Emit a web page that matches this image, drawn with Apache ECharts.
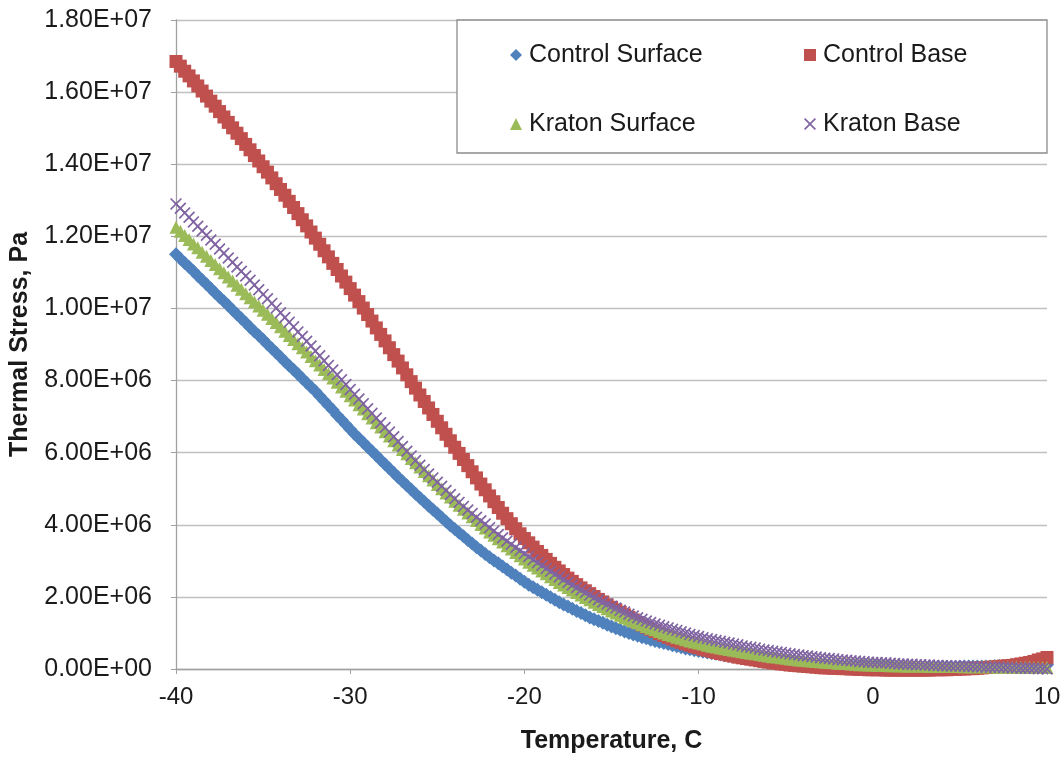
<!DOCTYPE html>
<html>
<head>
<meta charset="utf-8">
<script src="https://cdn.jsdelivr.net/npm/echarts@6/dist/echarts.min.js"></script>
<style>
html,body{margin:0;padding:0;background:#fff;}
#chart{width:1064px;height:761px;}
</style>
</head>
<body>
<div id="chart"></div>
<script>
// Temperature, C
var temperature = [
-40,-39.75,-39.5,-39.25,-39,-38.75,-38.5,-38.25,-38,-37.75,-37.5,-37.25,-37,-36.75,-36.5,-36.25,-36,-35.75,-35.5,-35.25,
-35,-34.75,-34.5,-34.25,-34,-33.75,-33.5,-33.25,-33,-32.75,-32.5,-32.25,-32,-31.75,-31.5,-31.25,-31,-30.75,-30.5,-30.25,
-30,-29.75,-29.5,-29.25,-29,-28.75,-28.5,-28.25,-28,-27.75,-27.5,-27.25,-27,-26.75,-26.5,-26.25,-26,-25.75,-25.5,-25.25,
-25,-24.75,-24.5,-24.25,-24,-23.75,-23.5,-23.25,-23,-22.75,-22.5,-22.25,-22,-21.75,-21.5,-21.25,-21,-20.75,-20.5,-20.25,
-20,-19.75,-19.5,-19.25,-19,-18.75,-18.5,-18.25,-18,-17.75,-17.5,-17.25,-17,-16.75,-16.5,-16.25,-16,-15.75,-15.5,-15.25,
-15,-14.75,-14.5,-14.25,-14,-13.75,-13.5,-13.25,-13,-12.75,-12.5,-12.25,-12,-11.75,-11.5,-11.25,-11,-10.75,-10.5,-10.25,
-10,-9.75,-9.5,-9.25,-9,-8.75,-8.5,-8.25,-8,-7.75,-7.5,-7.25,-7,-6.75,-6.5,-6.25,-6,-5.75,-5.5,-5.25,
-5,-4.75,-4.5,-4.25,-4,-3.75,-3.5,-3.25,-3,-2.75,-2.5,-2.25,-2,-1.75,-1.5,-1.25,-1,-0.75,-0.5,-0.25,
0,0.25,0.5,0.75,1,1.25,1.5,1.75,2,2.25,2.5,2.75,3,3.25,3.5,3.75,4,4.25,4.5,4.75,
5,5.25,5.5,5.75,6,6.25,6.5,6.75,7,7.25,7.5,7.75,8,8.25,8.5,8.75,9,9.25,9.5,9.75,
10];

// Thermal Stress, Pa
var controlSurface = [
11.50e6,11.38e6,11.26e6,11.15e6,11.03e6,10.91e6,10.79e6,10.67e6,10.55e6,10.43e6,10.31e6,10.20e6,10.08e6,9.96e6,9.84e6,9.72e6,9.60e6,9.48e6,9.36e6,9.25e6,
9.13e6,9.01e6,8.89e6,8.77e6,8.65e6,8.53e6,8.41e6,8.30e6,8.18e6,8.06e6,7.94e6,7.82e6,7.70e6,7.57e6,7.44e6,7.31e6,7.18e6,7.04e6,6.91e6,6.78e6,
6.65e6,6.52e6,6.40e6,6.28e6,6.16e6,6.04e6,5.92e6,5.80e6,5.68e6,5.56e6,5.44e6,5.32e6,5.21e6,5.09e6,4.98e6,4.86e6,4.75e6,4.64e6,4.53e6,4.42e6,
4.31e6,4.20e6,4.09e6,3.98e6,3.88e6,3.78e6,3.68e6,3.58e6,3.48e6,3.38e6,3.29e6,3.19e6,3.10e6,3.01e6,2.93e6,2.84e6,2.76e6,2.67e6,2.59e6,2.50e6,
2.42e6,2.34e6,2.27e6,2.20e6,2.13e6,2.06e6,1.99e6,1.92e6,1.85e6,1.79e6,1.73e6,1.67e6,1.61e6,1.55e6,1.49e6,1.43e6,1.38e6,1.33e6,1.28e6,1.23e6,
1.18e6,1.13e6,1.09e6,1.04e6,1.00e6,0.96e6,0.92e6,0.88e6,0.85e6,0.81e6,0.78e6,0.75e6,0.72e6,0.69e6,0.66e6,0.63e6,0.60e6,0.57e6,0.55e6,0.52e6,
0.50e6,0.48e6,0.46e6,0.44e6,0.42e6,0.40e6,0.38e6,0.36e6,0.35e6,0.33e6,0.32e6,0.30e6,0.29e6,0.27e6,0.26e6,0.25e6,0.24e6,0.23e6,0.22e6,0.21e6,
0.20e6,0.19e6,0.18e6,0.17e6,0.16e6,0.15e6,0.15e6,0.14e6,0.13e6,0.12e6,0.12e6,0.11e6,0.11e6,0.10e6,0.10e6,0.09e6,0.09e6,0.09e6,0.09e6,0.08e6,
0.08e6,0.08e6,0.08e6,0.07e6,0.07e6,0.07e6,0.07e6,0.06e6,0.06e6,0.06e6,0.06e6,0.06e6,0.06e6,0.06e6,0.06e6,0.06e6,0.06e6,0.06e6,0.06e6,0.06e6,
0.07e6,0.07e6,0.07e6,0.07e6,0.07e6,0.07e6,0.07e6,0.07e6,0.08e6,0.08e6,0.08e6,0.08e6,0.08e6,0.08e6,0.09e6,0.09e6,0.10e6,0.10e6,0.11e6,0.11e6,
0.12e6];

var controlBase = [
16.85e6,16.72e6,16.58e6,16.45e6,16.31e6,16.17e6,16.03e6,15.89e6,15.75e6,15.61e6,15.46e6,15.31e6,15.16e6,15.01e6,14.86e6,14.71e6,14.55e6,14.40e6,14.24e6,14.09e6,
13.93e6,13.78e6,13.62e6,13.46e6,13.30e6,13.14e6,12.97e6,12.80e6,12.63e6,12.46e6,12.29e6,12.12e6,11.95e6,11.78e6,11.60e6,11.43e6,11.25e6,11.08e6,10.90e6,10.73e6,
10.55e6,10.37e6,10.19e6,10.01e6,9.83e6,9.65e6,9.46e6,9.28e6,9.10e6,8.91e6,8.72e6,8.54e6,8.35e6,8.16e6,7.97e6,7.79e6,7.60e6,7.42e6,7.24e6,7.06e6,
6.87e6,6.69e6,6.51e6,6.33e6,6.15e6,5.98e6,5.81e6,5.64e6,5.47e6,5.30e6,5.13e6,4.97e6,4.80e6,4.64e6,4.48e6,4.32e6,4.17e6,4.03e6,3.89e6,3.75e6,
3.62e6,3.50e6,3.38e6,3.26e6,3.15e6,3.04e6,2.93e6,2.82e6,2.72e6,2.62e6,2.52e6,2.43e6,2.34e6,2.25e6,2.17e6,2.09e6,2.01e6,1.93e6,1.86e6,1.78e6,
1.71e6,1.64e6,1.57e6,1.50e6,1.43e6,1.36e6,1.29e6,1.22e6,1.16e6,1.10e6,1.04e6,0.98e6,0.93e6,0.88e6,0.83e6,0.78e6,0.74e6,0.70e6,0.66e6,0.62e6,
0.59e6,0.55e6,0.52e6,0.49e6,0.46e6,0.43e6,0.41e6,0.38e6,0.36e6,0.33e6,0.31e6,0.29e6,0.27e6,0.25e6,0.23e6,0.21e6,0.19e6,0.17e6,0.16e6,0.14e6,
0.13e6,0.11e6,0.10e6,0.09e6,0.08e6,0.07e6,0.06e6,0.05e6,0.04e6,0.03e6,0.03e6,0.02e6,0.02e6,0.01e6,0.01e6,0.00e6,0.00e6,-0.01e6,-0.01e6,-0.02e6,
-0.02e6,-0.02e6,-0.02e6,-0.03e6,-0.03e6,-0.03e6,-0.03e6,-0.03e6,-0.03e6,-0.03e6,-0.03e6,-0.03e6,-0.03e6,-0.03e6,-0.02e6,-0.02e6,-0.02e6,-0.02e6,-0.01e6,-0.01e6,
0.00e6,0.00e6,0.01e6,0.01e6,0.02e6,0.03e6,0.04e6,0.05e6,0.06e6,0.07e6,0.08e6,0.09e6,0.10e6,0.12e6,0.14e6,0.16e6,0.18e6,0.21e6,0.25e6,0.28e6,
0.32e6];

var kratonSurface = [
12.25e6,12.14e6,12.02e6,11.91e6,11.79e6,11.68e6,11.56e6,11.45e6,11.33e6,11.22e6,11.10e6,10.99e6,10.87e6,10.76e6,10.64e6,10.53e6,10.41e6,10.30e6,10.18e6,10.07e6,
9.95e6,9.84e6,9.72e6,9.61e6,9.49e6,9.37e6,9.25e6,9.14e6,9.02e6,8.91e6,8.79e6,8.67e6,8.55e6,8.43e6,8.31e6,8.19e6,8.07e6,7.95e6,7.82e6,7.70e6,
7.58e6,7.46e6,7.33e6,7.21e6,7.08e6,6.96e6,6.83e6,6.71e6,6.58e6,6.46e6,6.33e6,6.21e6,6.09e6,5.97e6,5.84e6,5.72e6,5.60e6,5.48e6,5.36e6,5.24e6,
5.12e6,5.00e6,4.88e6,4.77e6,4.65e6,4.54e6,4.43e6,4.33e6,4.22e6,4.12e6,4.01e6,3.91e6,3.80e6,3.71e6,3.61e6,3.52e6,3.42e6,3.33e6,3.23e6,3.14e6,
3.05e6,2.96e6,2.88e6,2.80e6,2.72e6,2.64e6,2.56e6,2.48e6,2.40e6,2.33e6,2.26e6,2.19e6,2.12e6,2.05e6,1.98e6,1.92e6,1.85e6,1.79e6,1.73e6,1.67e6,
1.61e6,1.55e6,1.49e6,1.43e6,1.38e6,1.33e6,1.28e6,1.23e6,1.18e6,1.13e6,1.09e6,1.04e6,1.00e6,0.96e6,0.92e6,0.88e6,0.85e6,0.81e6,0.78e6,0.75e6,
0.72e6,0.69e6,0.66e6,0.63e6,0.61e6,0.58e6,0.56e6,0.54e6,0.52e6,0.50e6,0.48e6,0.46e6,0.44e6,0.42e6,0.40e6,0.38e6,0.36e6,0.34e6,0.33e6,0.31e6,
0.30e6,0.28e6,0.27e6,0.25e6,0.24e6,0.23e6,0.22e6,0.21e6,0.20e6,0.19e6,0.18e6,0.17e6,0.16e6,0.15e6,0.15e6,0.14e6,0.13e6,0.12e6,0.12e6,0.11e6,
0.11e6,0.10e6,0.10e6,0.10e6,0.09e6,0.09e6,0.09e6,0.08e6,0.08e6,0.08e6,0.08e6,0.08e6,0.08e6,0.07e6,0.07e6,0.07e6,0.07e6,0.07e6,0.07e6,0.07e6,
0.07e6,0.06e6,0.06e6,0.06e6,0.06e6,0.06e6,0.06e6,0.06e6,0.06e6,0.05e6,0.05e6,0.05e6,0.05e6,0.05e6,0.05e6,0.05e6,0.05e6,0.04e6,0.04e6,0.04e6,
0.04e6];

var kratonBase = [
12.90e6,12.78e6,12.65e6,12.53e6,12.40e6,12.28e6,12.15e6,12.03e6,11.90e6,11.78e6,11.65e6,11.53e6,11.40e6,11.28e6,11.15e6,11.03e6,10.90e6,10.78e6,10.65e6,10.52e6,
10.39e6,10.27e6,10.14e6,10.01e6,9.88e6,9.75e6,9.62e6,9.49e6,9.35e6,9.22e6,9.09e6,8.96e6,8.82e6,8.69e6,8.55e6,8.42e6,8.29e6,8.16e6,8.02e6,7.89e6,
7.75e6,7.62e6,7.49e6,7.36e6,7.22e6,7.09e6,6.96e6,6.83e6,6.70e6,6.57e6,6.44e6,6.31e6,6.17e6,6.04e6,5.91e6,5.78e6,5.65e6,5.53e6,5.41e6,5.30e6,
5.18e6,5.07e6,4.95e6,4.84e6,4.72e6,4.62e6,4.51e6,4.41e6,4.31e6,4.21e6,4.11e6,4.02e6,3.92e6,3.83e6,3.73e6,3.64e6,3.55e6,3.46e6,3.37e6,3.29e6,
3.20e6,3.12e6,3.03e6,2.95e6,2.87e6,2.79e6,2.71e6,2.63e6,2.55e6,2.48e6,2.40e6,2.33e6,2.26e6,2.19e6,2.12e6,2.05e6,1.98e6,1.92e6,1.86e6,1.80e6,
1.74e6,1.69e6,1.63e6,1.58e6,1.52e6,1.47e6,1.42e6,1.38e6,1.33e6,1.29e6,1.25e6,1.21e6,1.17e6,1.14e6,1.10e6,1.07e6,1.03e6,1.00e6,0.96e6,0.93e6,
0.90e6,0.87e6,0.84e6,0.82e6,0.79e6,0.77e6,0.74e6,0.72e6,0.69e6,0.67e6,0.64e6,0.62e6,0.60e6,0.58e6,0.55e6,0.53e6,0.51e6,0.49e6,0.47e6,0.46e6,
0.44e6,0.42e6,0.40e6,0.39e6,0.37e6,0.36e6,0.34e6,0.33e6,0.31e6,0.30e6,0.29e6,0.28e6,0.26e6,0.25e6,0.24e6,0.23e6,0.22e6,0.21e6,0.20e6,0.19e6,
0.18e6,0.18e6,0.17e6,0.17e6,0.16e6,0.15e6,0.14e6,0.14e6,0.13e6,0.13e6,0.12e6,0.12e6,0.11e6,0.11e6,0.10e6,0.10e6,0.09e6,0.09e6,0.08e6,0.08e6,
0.08e6,0.08e6,0.07e6,0.07e6,0.06e6,0.06e6,0.05e6,0.05e6,0.05e6,0.05e6,0.04e6,0.04e6,0.03e6,0.03e6,0.02e6,0.02e6,0.02e6,0.02e6,0.01e6,0.01e6,
0.00e6];

var seriesNames = ['Control Surface', 'Control Base', 'Kraton Surface', 'Kraton Base'];
var seriesValues = [controlSurface, controlBase, kratonSurface, kratonBase];
var seriesColors = ['#4F81BD', '#C0504D', '#9BBB59', '#8064A2'];
var crossPath = 'path://M0,1 L1,0 L5,4 L9,0 L10,1 L6,5 L10,9 L9,10 L5,6 L1,10 L0,9 L4,5 Z';
var seriesSymbols = ['diamond', 'rect', 'triangle', crossPath];
var seriesSizes = [14, 13, 13, 12];

var FONT = '"Liberation Sans", Arial, sans-serif';

function fmtSci(v) {
  if (v === 0) return '0.00E+00';
  var e = Math.floor(Math.log10(Math.abs(v)) + 1e-9);
  var m = v / Math.pow(10, e);
  var es = (e < 10 ? '0' : '') + e;
  return m.toFixed(2) + 'E+' + es;
}

var series = seriesNames.map(function (name, i) {
  return {
    name: name,
    type: 'scatter',
    clip: false,
    symbol: seriesSymbols[i],
    symbolSize: seriesSizes[i],
    itemStyle: { color: seriesColors[i], opacity: 1 },
    data: temperature.map(function (t, k) { return [t, seriesValues[i][k]]; }),
    z: 2 + i
  };
});

var chart = echarts.init(document.getElementById('chart'), null, { renderer: 'canvas' });
chart.setOption({
  animation: false,
  backgroundColor: '#ffffff',
  grid: { left: 175, right: 17, top: 20, bottom: 92, containLabel: false },
  xAxis: {
    type: 'value', min: -40, max: 10, interval: 10,
    name: 'Temperature, C', nameLocation: 'middle', nameGap: 60,
    nameTextStyle: { fontFamily: FONT, fontSize: 25, fontWeight: 'bold', color: '#1a1a1a' },
    axisLine: { show: true, onZero: false, lineStyle: { color: '#a0a0a0', width: 1.3 } },
    axisTick: { show: true, length: 5, lineStyle: { color: '#a0a0a0' } },
    splitLine: { show: false },
    axisLabel: { fontFamily: FONT, fontSize: 24, color: '#1a1a1a', margin: 16 }
  },
  yAxis: {
    type: 'value', min: 0, max: 18e6, interval: 2e6,
    name: 'Thermal Stress, Pa', nameLocation: 'middle', nameGap: 143, nameRotate: 90,
    nameTextStyle: { fontFamily: FONT, fontSize: 25, fontWeight: 'bold', color: '#1a1a1a' },
    axisLine: { show: true, onZero: false, lineStyle: { color: '#a0a0a0', width: 1.3 } },
    axisTick: { show: true, length: 5, lineStyle: { color: '#a0a0a0' } },
    splitLine: { show: true, lineStyle: { color: '#c0c0c0', width: 1.3 } },
    axisLabel: { fontFamily: FONT, fontSize: 25, color: '#1a1a1a', margin: 24, formatter: fmtSci }
  },
  graphic: [{
    type: 'rect', z: 10,
    shape: { x: 457, y: 20, width: 590, height: 133 },
    style: { fill: '#ffffff', stroke: '#8c8c8c', lineWidth: 1.3 }
  }],
  legend: [{
    z: 20, orient: 'vertical', left: 505, top: 35, itemGap: 39,
    itemWidth: 12, itemHeight: 12,
    textStyle: { fontFamily: FONT, fontSize: 25, color: '#1a1a1a', lineHeight: 30, padding: [0, 0, 0, 2] },
    data: [{ name: 'Control Surface', icon: 'diamond' }, { name: 'Kraton Surface', icon: 'triangle' }]
  }, {
    z: 20, orient: 'vertical', left: 799, top: 35, itemGap: 39,
    itemWidth: 12, itemHeight: 12,
    textStyle: { fontFamily: FONT, fontSize: 25, color: '#1a1a1a', lineHeight: 30, padding: [0, 0, 0, 2] },
    data: [{ name: 'Control Base', icon: 'rect' }, { name: 'Kraton Base', icon: crossPath }]
  }],
  series: series
});
</script>
</body>
</html>
